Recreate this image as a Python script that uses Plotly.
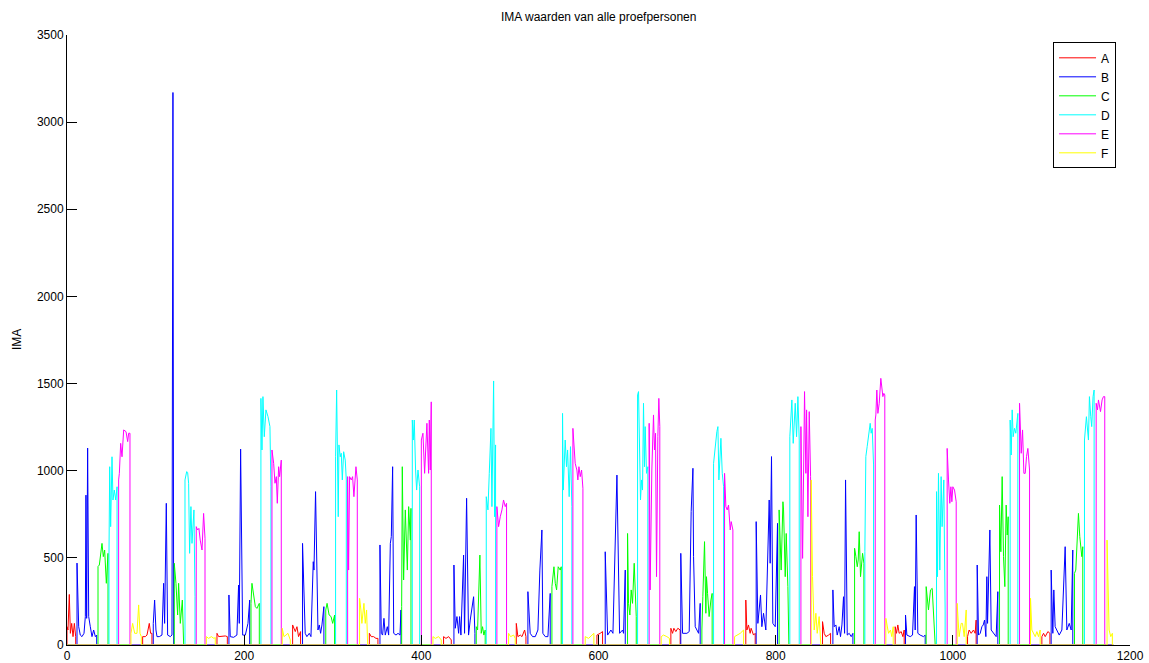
import plotly.graph_objects as go

# ---- data: each series is a list of active segments of (x, IMA) points; zero elsewhere ----
A_SEGS = [
    [(0, 105), (1.1, 86), (2.6, 290), (3.8, 67), (5.3, 124), (6.8, 48), (8.3, 124), (9.8, 48)],
    [(85.4, 48), (88.4, 48), (90.3, 57), (92.9, 124), (94.4, 67), (95.9, 67)],
    [(169.3, 67), (171.2, 48), (175.0, 52), (178.7, 52), (181.0, 48)],
    [(254.7, 115), (257.7, 77), (259.6, 105), (261.4, 48), (263.7, 77)],
    [(341.3, 67), (343.5, 48), (346.1, 48), (348.8, 38), (351.0, 38)],
    [(425.1, 48), (427.8, 38), (430.8, 48), (433.8, 29)],
    [(507.2, 124), (509.0, 48), (511.7, 57), (513.6, 48), (516.6, 86), (518.1, 48)],
    [(598.2, 57), (601.9, 67), (604.6, 77)],
    [(681.7, 96), (683.6, 67), (685.1, 96), (687.3, 77), (689.6, 96), (692.2, 86)],
    [(766.3, 258), (767.5, 86), (769.3, 115), (771.2, 67), (772.3, 96), (775.0, 57), (776.9, 67)],
    [(852.9, 134), (854.8, 67), (856.7, 48), (859.7, 57), (862.0, 67)],
    [(934.9, 105), (936.4, 67), (937.9, 115), (939.4, 67), (941.7, 77), (943.6, 48), (945.1, 86)],
    [(1016.6, 48), (1018.4, 86), (1020.7, 67), (1023.3, 86), (1025.2, 67), (1026.3, 143)],
    [(1100.5, 48), (1102.4, 67), (1104.3, 48), (1107.3, 77), (1109.6, 67)],
]

B_SEGS = [
    [(11.3, 470), (13.2, 105), (15.0, 57), (16.9, 48), (19.2, 67), (20.7, 163), (21.4, 860),
     (22.2, 153), (23.3, 1130), (24.5, 163), (26.3, 105), (28.2, 48), (30.1, 86), (32.0, 48), (33.5, 57)],
    [(97.4, 124), (98.9, 258), (100.4, 86), (101.6, 48), (104.2, 48), (107.2, 57), (109.1, 354),
     (110.2, 124), (112.1, 813), (113.6, 57), (116.6, 48), (118.5, 57), (119.6, 3170), (120.4, 86)],
    [(182.8, 287), (184.3, 48), (188.1, 44), (191.8, 57), (193.7, 344), (194.5, 124), (196.0, 1124),
     (198.3, 57), (201.3, 57), (204.3, 124), (206.2, 258)],
    [(265.9, 583), (268.9, 67), (270.8, 48), (273.5, 67), (275.4, 48), (278.0, 478), (278.8, 430),
     (280.6, 880), (283.3, 86), (284.8, 115), (286.3, 67), (287.8, 115), (290.0, 220)],
    [(353.3, 574), (354.8, 67), (356.3, 57), (357.8, 153), (359.3, 57), (361.6, 105), (363.1, 57),
     (365.0, 583), (366.1, 622), (367.6, 1023), (368.8, 67), (371.4, 57), (373.7, 67), (375.9, 57), (377.0, 201)],
    [(436.8, 459), (438.3, 96), (440.2, 163), (442.1, 67), (443.2, 163), (444.7, 57), (447.7, 516),
     (448.8, 67), (451.1, 842), (453.3, 57), (455.2, 143), (457.1, 201), (459.0, 277), (460.5, 67)],
    [(520.3, 306), (522.9, 67), (525.6, 48), (528.6, 48), (531.6, 86), (533.8, 430), (536.1, 660),
     (537.2, 67), (539.9, 48), (542.9, 48), (545.5, 296)],
    [(607.6, 535), (610.3, 57), (614.0, 86), (616.3, 67), (620.8, 975), (623.8, 67), (627.2, 86),
     (628.3, 67), (630.2, 430)],
    [(692.9, 526), (694.9, 67), (699.8, 67), (702.4, 77), (704.6, 765), (706.6, 1014), (707.3, 507),
     (709.2, 105), (711.1, 86), (713.0, 67), (714.8, 239)],
    [(778.0, 708), (779.9, 124), (782.9, 287), (784.4, 105), (786.3, 182), (788.9, 86), (792.7, 832),
     (793.8, 469), (795.3, 1081), (796.8, 124), (799.5, 105), (802.1, 698)],
    [(864.6, 316), (866.1, 105), (868.0, 115), (869.5, 57), (871.7, 105), (873.2, 48), (874.8, 115),
     (876.6, 277), (877.8, 67), (878.9, 947), (880.8, 57), (883.0, 67), (885.3, 48), (887.2, 67)],
    [(946.6, 172), (948.1, 57), (951.9, 48), (954.5, 57), (956.7, 335), (957.5, 86), (958.6, 746),
     (960.5, 67), (963.1, 57), (966.9, 48), (968.8, 57)],
    [(1027.5, 459), (1029.0, 57), (1030.9, 67), (1032.8, 105), (1034.3, 115), (1035.8, 143),
     (1037.3, 48), (1038.4, 392), (1039.2, 124), (1041.8, 660), (1043.3, 86), (1045.9, 67),
     (1048.9, 48), (1050.8, 306)],
    [(1111.0, 430), (1112.9, 67), (1114.0, 316), (1115.5, 105), (1117.4, 86), (1120.1, 57),
     (1123.1, 86), (1125.0, 402), (1126.8, 564), (1128.7, 86), (1131.4, 124), (1133.6, 86), (1135.4, 545)],
]

C_SEGS = [
    [(35.0, 450), (36.5, 459), (39.5, 583), (41.0, 507), (42.5, 545), (44.4, 354), (46.3, 526)],
    [(121.1, 469), (123.0, 354), (124.9, 172), (126.0, 354), (127.9, 124), (130.2, 258), (131.7, 67)],
    [(207.7, 239), (208.8, 354), (210.7, 277), (212.6, 220), (214.4, 210), (217.1, 239)],
    [(292.1, 201), (293.6, 239), (295.9, 172), (298.1, 163), (299.9, 124), (302.1, 172)],
    [(377.8, 220), (378.5, 1023), (380.0, 373), (381.9, 775), (384.2, 430), (385.7, 794), (387.6, 602), (388.3, 784)],
    [(462.0, 105), (463.5, 86), (466.1, 516), (467.6, 67), (469.1, 105), (470.6, 57), (472.1, 86)],
    [(547.4, 335), (549.7, 449), (551.2, 354), (552.7, 316), (554.5, 449), (556.8, 430), (557.9, 449)],
    [(632.8, 640), (633.9, 239), (635.4, 172), (636.9, 316), (638.4, 239), (640.3, 469), (642.6, 163)],
    [(716.7, 86), (717.8, 277), (719.7, 593), (721.2, 182), (721.9, 392), (723.1, 296), (724.9, 163),
     (726.9, 258), (728.3, 296)],
    [(803.9, 775), (806.2, 430), (808.2, 822), (808.9, 775), (810.8, 392), (811.9, 640), (813.8, 335), (814.9, 124)],
    [(889.1, 555), (890.6, 507), (892.1, 449), (893.2, 488), (894.3, 650), (895.8, 392), (898.1, 526), (899.6, 469)],
    [(969.9, 335), (972.5, 201), (974.8, 316), (976.7, 325), (978.2, 201), (980.1, 67)],
    [(1052.7, 803), (1054.2, 535), (1055.7, 966), (1057.2, 507), (1058.7, 335), (1060.2, 803),
     (1061.4, 631), (1062.5, 736)],
    [(1137.3, 411), (1138.8, 430), (1140.3, 564), (1141.8, 755), (1143.3, 622), (1144.8, 545),
     (1145.6, 507), (1146.7, 564)],
]

D_SEGS = [
    [(47.4, 526), (48.2, 1023), (49.3, 679), (50.8, 1080), (51.9, 832), (53.4, 889), (55.0, 832), (56.5, 908)],
    [(133.2, 947), (135.1, 995), (136.2, 990), (137.3, 928), (138.4, 526), (139.9, 794), (141.1, 583),
     (143.3, 775), (144.5, 277)],
    [(218.9, 1415), (220.1, 1119), (221.2, 1425), (222.7, 1195), (224.6, 1349), (226.9, 1310),
     (229.1, 1253), (230.2, 908)],
    [(303.2, 1080), (304.4, 1463), (305.5, 928), (306.2, 736), (307.0, 1148), (308.5, 1080),
     (309.6, 1100), (310.8, 947), (312.3, 1109), (314.1, 1061), (315.3, 947)],
    [(389.8, 1291), (390.9, 1176), (392.0, 1291), (393.5, 1004), (394.7, 889), (396.2, 1004), (398.1, 908)],
    [(473.3, 851), (475.2, 775), (476.7, 985), (478.6, 1243), (479.7, 794), (481.6, 1515),
     (482.7, 736), (483.8, 1148)],
    [(559.4, 1329), (560.2, 889), (562.4, 1176), (563.9, 1023), (565.1, 1119), (566.9, 851),
     (568.4, 1138), (569.9, 794)],
    [(644.1, 1435), (645.2, 1454), (647.4, 832), (648.6, 947), (649.7, 889), (650.8, 1387),
     (651.9, 1023), (652.7, 1253), (654.2, 985), (655.7, 1023)],
    [(729.9, 1042), (732.5, 1186), (733.6, 1224), (734.8, 1253), (735.9, 947), (738.2, 1186),
     (739.7, 985), (741.2, 908)],
    [(816.0, 1195), (818.3, 1406), (819.8, 1157), (822.1, 1387), (823.6, 1195), (825.1, 1425), (826.6, 1176)],
    [(900.7, 536), (901.8, 1081), (903.3, 1138), (905.6, 1243), (906.7, 1272), (907.8, 1215),
     (909.0, 1243), (910.5, 1033)],
    [(981.6, 880), (982.7, 392), (983.8, 985), (985.3, 430), (986.8, 966), (987.9, 679), (989.8, 947), (991.3, 201)],
    [(1064.7, 1291), (1065.9, 1090), (1067.0, 1349), (1068.1, 1195), (1069.6, 1243), (1071.1, 1215), (1073.4, 1329)],
    [(1148.6, 1176), (1149.7, 1272), (1150.8, 1310), (1153.1, 1176), (1154.2, 1425), (1155.7, 1310),
     (1156.8, 1253), (1158.3, 1425), (1159.5, 1463)],
]

E_SEGS = [
    [(58.3, 947), (59.1, 985), (60.6, 1157), (62.1, 1080), (64.0, 1234), (66.6, 1224), (68.5, 1167),
     (69.6, 1215), (71.1, 1215)],
    [(145.9, 679), (147.4, 660), (148.9, 669), (150.4, 602), (152.4, 545), (154.2, 755), (155.8, 612)],
    [(231.4, 1119), (233.3, 1042), (234.8, 928), (236.3, 966), (237.4, 813), (238.9, 1023), (240.0, 966), (241.9, 1061)],
    [(316.8, 966), (317.9, 430), (319.0, 966), (320.9, 947), (322.4, 966), (323.9, 851), (326.2, 1023), (327.7, 947)],
    [(400.0, 1176), (401.8, 1215), (403.7, 985), (406.3, 1272), (408.2, 985), (409.0, 1291),
     (410.1, 1004), (411.2, 1395)],
    [(485.3, 794), (487.2, 679), (489.1, 736), (491.0, 775), (492.8, 832), (494.7, 794), (496.2, 813)],
    [(571.1, 1243), (573.7, 1042), (575.6, 1004), (576.7, 947), (577.9, 1023), (579.4, 966), (580.9, 1004), (582.4, 899)],
    [(657.2, 1272), (658.3, 316), (660.2, 1004), (662.1, 1320), (663.2, 1119), (664.4, 1215),
     (665.5, 392), (667.0, 1195), (668.1, 1415), (669.2, 1253)],
    [(742.3, 985), (743.8, 794), (745.3, 775), (746.8, 803), (748.7, 660), (749.8, 708), (751.7, 660)],
    [(828.5, 1253), (830.4, 497), (832.6, 1454), (834.1, 985), (834.9, 1349), (836.4, 736),
     (837.9, 1339), (839.4, 966)],
    [(912.4, 1291), (913.1, 1320), (914.2, 1463), (915.4, 1329), (916.9, 1387), (918.7, 1530),
     (921.0, 1425), (922.1, 1444), (923.2, 1435)],
    [(993.6, 1128), (995.1, 947), (996.6, 813), (997.8, 908), (998.9, 822), (1000.0, 908), (1001.9, 889), (1003.8, 822)],
    [(1075.3, 1387), (1077.2, 1100), (1078.7, 1234), (1080.2, 985), (1081.7, 985), (1083.2, 1081),
     (1084.7, 1128), (1086.6, 1004)],
    [(1161.8, 1387), (1163.3, 1349), (1164.4, 1406), (1166.7, 1339), (1168.5, 1406), (1170.0, 1425), (1171.5, 1425)],
]

F_SEGS = [
    [(72.2, 67), (74.1, 124), (76.4, 67), (79.0, 67), (80.9, 230), (82.4, 67), (83.9, 48)],
    [(157.3, 48), (159.9, 38), (162.9, 48), (165.9, 38), (167.4, 43)],
    [(243.0, 96), (244.9, 48), (247.2, 57), (249.4, 67), (252.1, 29)],
    [(330.3, 268), (331.8, 201), (332.9, 124), (335.2, 239), (336.7, 124), (338.2, 201), (339.4, 48)],
    [(413.1, 48), (415.8, 38), (419.5, 48), (422.5, 29)],
    [(498.5, 67), (500.7, 48), (504.2, 57), (506.0, 38)],
    [(585.0, 48), (588.8, 38), (592.6, 57), (594.8, 67)],
    [(670.8, 48), (673.4, 57), (677.2, 48), (680.1, 38)],
    [(753.6, 48), (756.2, 57), (760.0, 67), (763.8, 86)],
    [(840.1, 947), (841.6, 392), (843.5, 86), (845.4, 182), (846.9, 67), (849.1, 163), (851.0, 48)],
    [(924.4, 153), (927.4, 67), (929.6, 86), (931.1, 48), (932.7, 105)],
    [(1004.9, 239), (1007.1, 48), (1009.4, 124), (1010.9, 124), (1012.8, 48), (1015.1, 201)],
    [(1087.7, 268), (1089.2, 86), (1093.0, 48), (1094.9, 77), (1096.7, 48), (1098.6, 86)],
    [(1174.1, 602), (1176.4, 86), (1178.3, 48), (1180.1, 67)],
]

SERIES_NAMES = ["A", "B", "C", "D", "E", "F"]
SERIES_SEGS = [A_SEGS, B_SEGS, C_SEGS, D_SEGS, E_SEGS, F_SEGS]
COLORS = ["#ff0000", "#0000ff", "#00ff00", "#00ffff", "#ff00ff", "#ffff00"]
X_END = 1181

X_TICKS = [0, 200, 400, 600, 800, 1000, 1200]
Y_TICKS = [0, 500, 1000, 1500, 2000, 2500, 3000, 3500]


def build(segs):
    xs, ys = [0], [0]
    for seg in segs:
        sx = [p[0] for p in seg]
        sy = [p[1] for p in seg]
        xs += [sx[0]] + sx + [sx[-1]]
        ys += [0] + sy + [0]
    xs.append(X_END)
    ys.append(0)
    return xs, ys


fig = go.Figure()
for name, segs, col in zip(SERIES_NAMES, SERIES_SEGS, COLORS):
    xs, ys = build(segs)
    fig.add_trace(go.Scatter(x=xs, y=ys, mode="lines", name=name,
                             line=dict(color=col, width=1)))

FONT = "Liberation Sans, Arial, Helvetica, sans-serif"
fig.update_layout(
    width=1149, height=663,
    margin=dict(l=67, r=19, t=35, b=18, autoexpand=False),
    paper_bgcolor="white", plot_bgcolor="white",
    font=dict(family=FONT, size=12, color="black"),
    showlegend=True,
    legend=dict(x=0.9276, y=0.988, xanchor="left", yanchor="top",
                bgcolor="white", bordercolor="black", borderwidth=1,
                font=dict(family=FONT, size=12, color="black"),
                itemwidth=37, tracegroupgap=0),
    xaxis=dict(range=[0, 1200], tickvals=X_TICKS, ticktext=[str(v) for v in X_TICKS],
               automargin=False,
               showgrid=False, zeroline=False, showline=True, linecolor="black", linewidth=1,
               ticks="inside", ticklen=10, tickcolor="black", tickwidth=1),
    yaxis=dict(range=[0, 3500], tickvals=Y_TICKS, ticktext=[str(v) for v in Y_TICKS],
               automargin=False,
               showgrid=False, zeroline=False, showline=True, linecolor="black", linewidth=1,
               ticks="inside", ticklen=10, tickcolor="black", tickwidth=1),
    annotations=[
        dict(text="IMA waarden van alle proefpersonen", xref="paper", yref="paper",
             x=0.5, y=1, xanchor="center", yanchor="bottom", yshift=9, showarrow=False,
             font=dict(family=FONT, size=12, color="black")),
        dict(text="IMA", xref="paper", yref="paper", x=0, y=0.5, xanchor="center",
             yanchor="middle", xshift=-50, textangle=-90, showarrow=False,
             font=dict(family=FONT, size=12, color="black")),
    ],
)

fig.write_html("out.html")
